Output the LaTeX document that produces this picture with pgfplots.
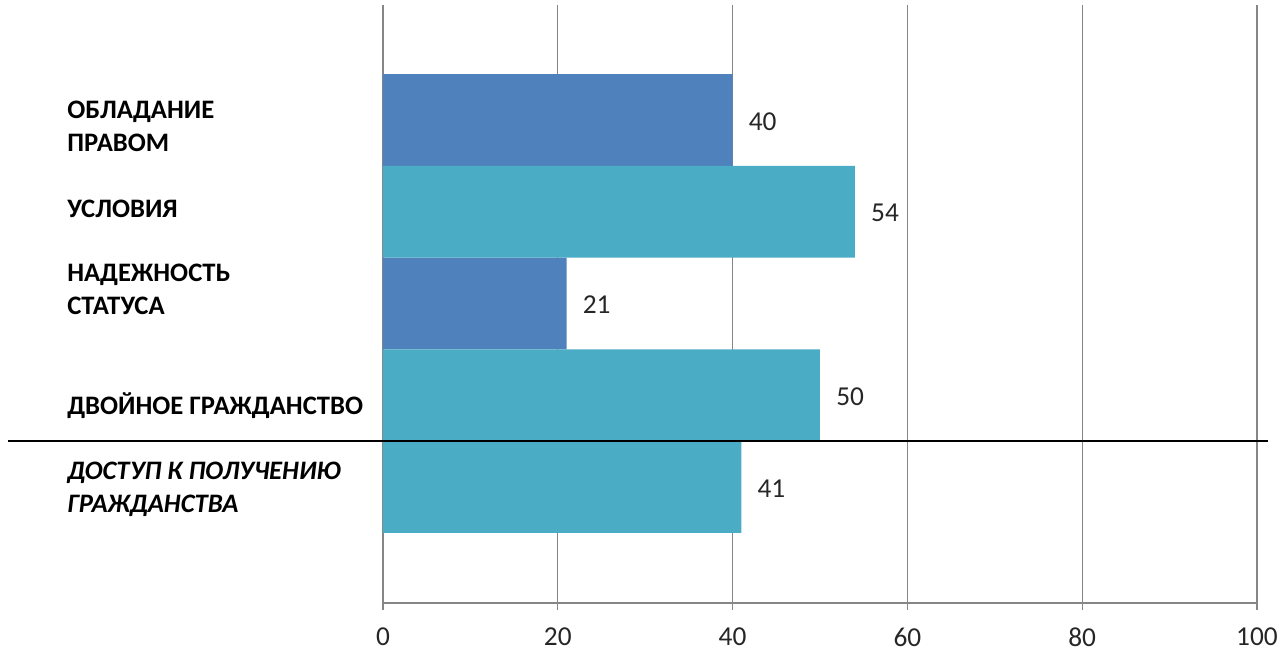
\documentclass[border=0pt]{standalone}
\usepackage{fontspec}
\setmainfont{Carlito}
\usepackage{pgfplots}
\pgfplotsset{compat=1.18}
\definecolor{cblue}{HTML}{4F81BD}
\definecolor{cteal}{HTML}{4BACC6}
\definecolor{cgrid}{HTML}{868686}
\begin{document}
\begin{tikzpicture}
\begin{axis}[
  name=ax,
  at={(0,0)}, anchor=south west,
  scale only axis,
  width=655.5pt, height=448.5pt,
  xmin=0, xmax=100,
  ymin=-1.253, ymax=5.264,
  y dir=reverse,
  axis x line*=bottom,
  axis y line*=left,
  axis line style={draw=cgrid, line width=0.9pt},
  xtick={0,20,40,60,80,100},
  xmajorgrids,
  grid style={draw=cgrid, line width=0.9pt},
  tick align=outside,
  major tick length=5.25pt,
  xtick style={draw=cgrid, line width=0.9pt},
  ytick={0.044,0.935,1.82,3.082,4},
  ytick style={draw=none},
  yticklabels={
    {ОБЛАДАНИЕ\\ПРАВОМ},
    {УСЛОВИЯ},
    {НАДЕЖНОСТЬ\\СТАТУСА},
    {ДВОЙНОЕ ГРАЖДАНСТВО},
    {{\itshape ДОСТУП К ПОЛУЧЕНИЮ}\\{\itshape ГРАЖДАНСТВА}}
  },
  yticklabel style={anchor=west, xshift=-231.75pt, yshift=-2pt, align=left, inner sep=0pt,
    font=\fontsize{20}{24.75}\selectfont\bfseries},
  xticklabel style={font=\fontsize{20.5}{24}\selectfont, text=black!85, yshift=-10pt},
  /pgf/number format/assume math mode=true,
  clip=false,
  xbar,
  bar width=1,
  bar shift=0pt,
  point meta=x,
  nodes near coords,
  nodes near coords style={anchor=west, inner sep=0pt, xshift=12pt, yshift=-1pt,
    font=\fontsize{20.5}{24}\selectfont, text=black!85},
]
\addplot[fill=cblue, draw=none] coordinates {(40,0) (21,2)};
\addplot[fill=cteal, draw=none] coordinates {(54,1) (50,3) (41,4)};
\draw[black, line width=1.5pt] (axis cs:-42.9,3.5) -- (axis cs:101.3,3.5);
\end{axis}
\path (ax.south west) ++(-287.25pt,-33.75pt) rectangle ++(962.25pt,486pt);
\end{tikzpicture}
\end{document}
